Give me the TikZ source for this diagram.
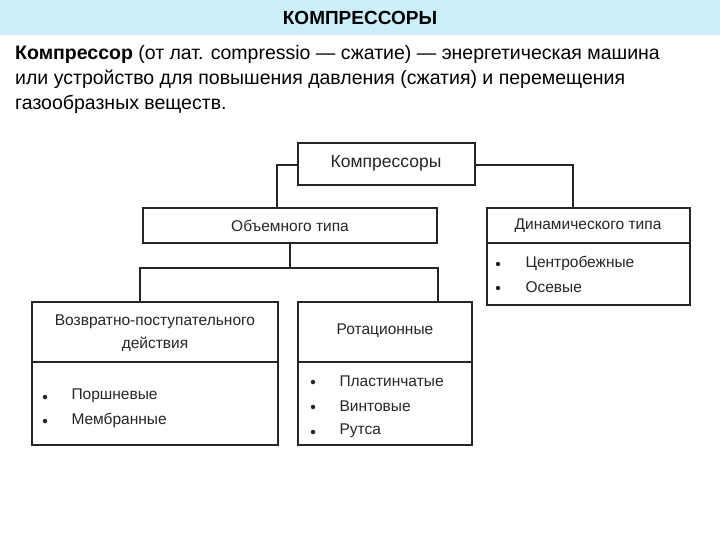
\documentclass[tikz,border=0pt]{standalone}
\usepackage{fontspec}
\setmainfont{Liberation Sans}
\begin{document}
\begin{tikzpicture}[x=1pt,y=-1pt,
  box/.style={draw=black!85,line width=1.8pt},
  ln/.style={draw=black!85,line width=1.5pt},
  lbl/.style={font=\fontsize{15.5}{23}\selectfont,text=black!85},
  bul/.style={circle,fill=black!85,inner sep=0pt,minimum size=4.5pt}]
\useasboundingbox (0,0) rectangle (720,540);
\fill[white] (0,0) rectangle (720,540);
\fill[cyan!20] (0,0) rectangle (720,35);
\node[font=\fontsize{19}{22}\selectfont\bfseries] (title) at (360,18) {КОМПРЕССОРЫ};
\node[anchor=north west,align=left,inner sep=0pt,font=\fontsize{19.5}{25}\selectfont] (para) at (15,45)
{\textbf{Компрессор} (от лат. compressio — сжатие) — энергетическая машина\\
или устройство для повышения давления (сжатия) и перемещения\\
газообразных веществ.};
% boxes
\draw[box] (298,143) rectangle (475,185);
\node[lbl,font=\fontsize{17.5}{20}\selectfont] (k) at (386,163) {Компрессоры};
\coordinate (kL) at (298,165); \coordinate (kR) at (475,165);
\draw[box] (143,208) rectangle (437,243);
\node[lbl] (ob) at (290,226) {Объемного типа};
\draw[box] (487,208) rectangle (690,305);
\draw[box] (487,243) -- (690,243);
\node[lbl] (din) at (588,226) {Динамического типа};
\node[bul] (b1) at (498,264) {}; \node[lbl,anchor=west] (t1) at (522,263) {Центробежные};
\node[bul] (b2) at (498,288) {}; \node[lbl,anchor=west] (t2) at (522,287) {Осевые};
\draw[box] (32,302) rectangle (278,445);
\draw[box] (32,362) -- (278,362);
\node[lbl,align=center] (vp) at (155,333) {Возвратно-поступательного\\действия};
\node[bul] (b3) at (45,397) {}; \node[lbl,anchor=west] (t3) at (68,396) {Поршневые};
\node[bul] (b4) at (45,421) {}; \node[lbl,anchor=west] (t4) at (68,420) {Мембранные};
\draw[box] (298,302) rectangle (472,445);
\draw[box] (298,362) -- (472,362);
\node[lbl] (rot) at (385,331) {Ротационные};
\node[bul] (b5) at (313,382) {}; \node[lbl,anchor=west] (t5) at (336,381) {Пластинчатые};
\node[bul] (b6) at (313,407) {}; \node[lbl,anchor=west] (t6) at (336,406) {Винтовые};
\node[bul] (b7) at (313,432) {}; \node[lbl,anchor=west] (t7) at (336,431) {Рутса};
% connectors
\draw[ln] (kL) -- (277,165) -- (277,208);
\draw[ln] (kR) -- (573,165) -- (573,208);
\draw[ln] (290,243) -- (290,268);
\draw[ln] (140,302) -- (140,268) -- (438,268) -- (438,302);
\end{tikzpicture}
\end{document}
